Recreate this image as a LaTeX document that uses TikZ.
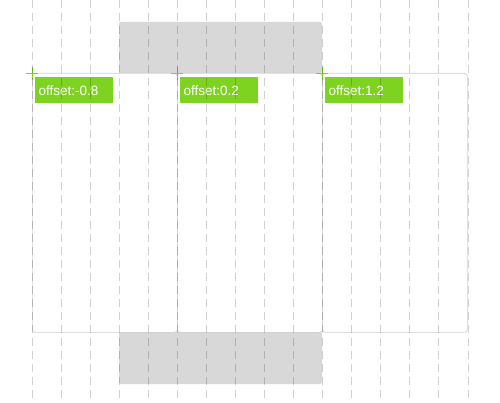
\documentclass[tikz,border=0pt]{standalone}
\usepackage{fontspec}
\setmainfont{Liberation Sans}
\usetikzlibrary{positioning}
\definecolor{framegray}{HTML}{CFCFCF}
\definecolor{bandgray}{HTML}{D8D8D8}
\definecolor{taggreen}{HTML}{7ED321}

\begin{document}
\begin{tikzpicture}[
  x=1pt, y=-1pt,
  gridline/.style={draw=black, draw opacity=0.18, line width=1pt, dash pattern=on 8pt off 5pt},
  band/.style={fill=bandgray, rounded corners=2pt},
  panel/.style={draw=framegray, line width=0.7pt, rounded corners=3pt, minimum width=145pt, minimum height=259pt, inner sep=0pt, anchor=north west},
  tag/.style={fill=taggreen, text=white, font=\fontsize{13.5}{16}\selectfont, text width=71pt, align=left, minimum height=26pt, inner sep=3.5pt, anchor=north west},
  cross/.style={draw=taggreen, line width=0.9pt},
]
\useasboundingbox (0,0) rectangle (500,403);
% ---------- gray bands above and below the middle ----------
\fill[band] (119,22) rectangle (322,73);
\fill[band] (119,332) rectangle (322,384);
% ---------- panels with offset tags ----------
\foreach \i/\x/\off in {1/32/-0.8, 2/177/0.2, 3/322/1.2} {
  \node[panel] (p\i) at (\x,73) {};
  \node[tag, below right=4pt and 3pt of p\i.north west, anchor=north west] (t\i) {offset:\off};
  \draw[cross] ([xshift=-6pt]p\i.north west) -- ([xshift=6pt]p\i.north west);
  \draw[cross] ([yshift=6pt]p\i.north west) -- ([yshift=-7pt]p\i.north west);
}
% ---------- dashed grid on top ----------
\foreach \k in {0,...,15} {
  \pgfmathsetmacro{\gx}{32+\k*29.07}
  \draw[gridline] (\gx,0) -- (\gx,403);
}
\end{tikzpicture}
\end{document}
